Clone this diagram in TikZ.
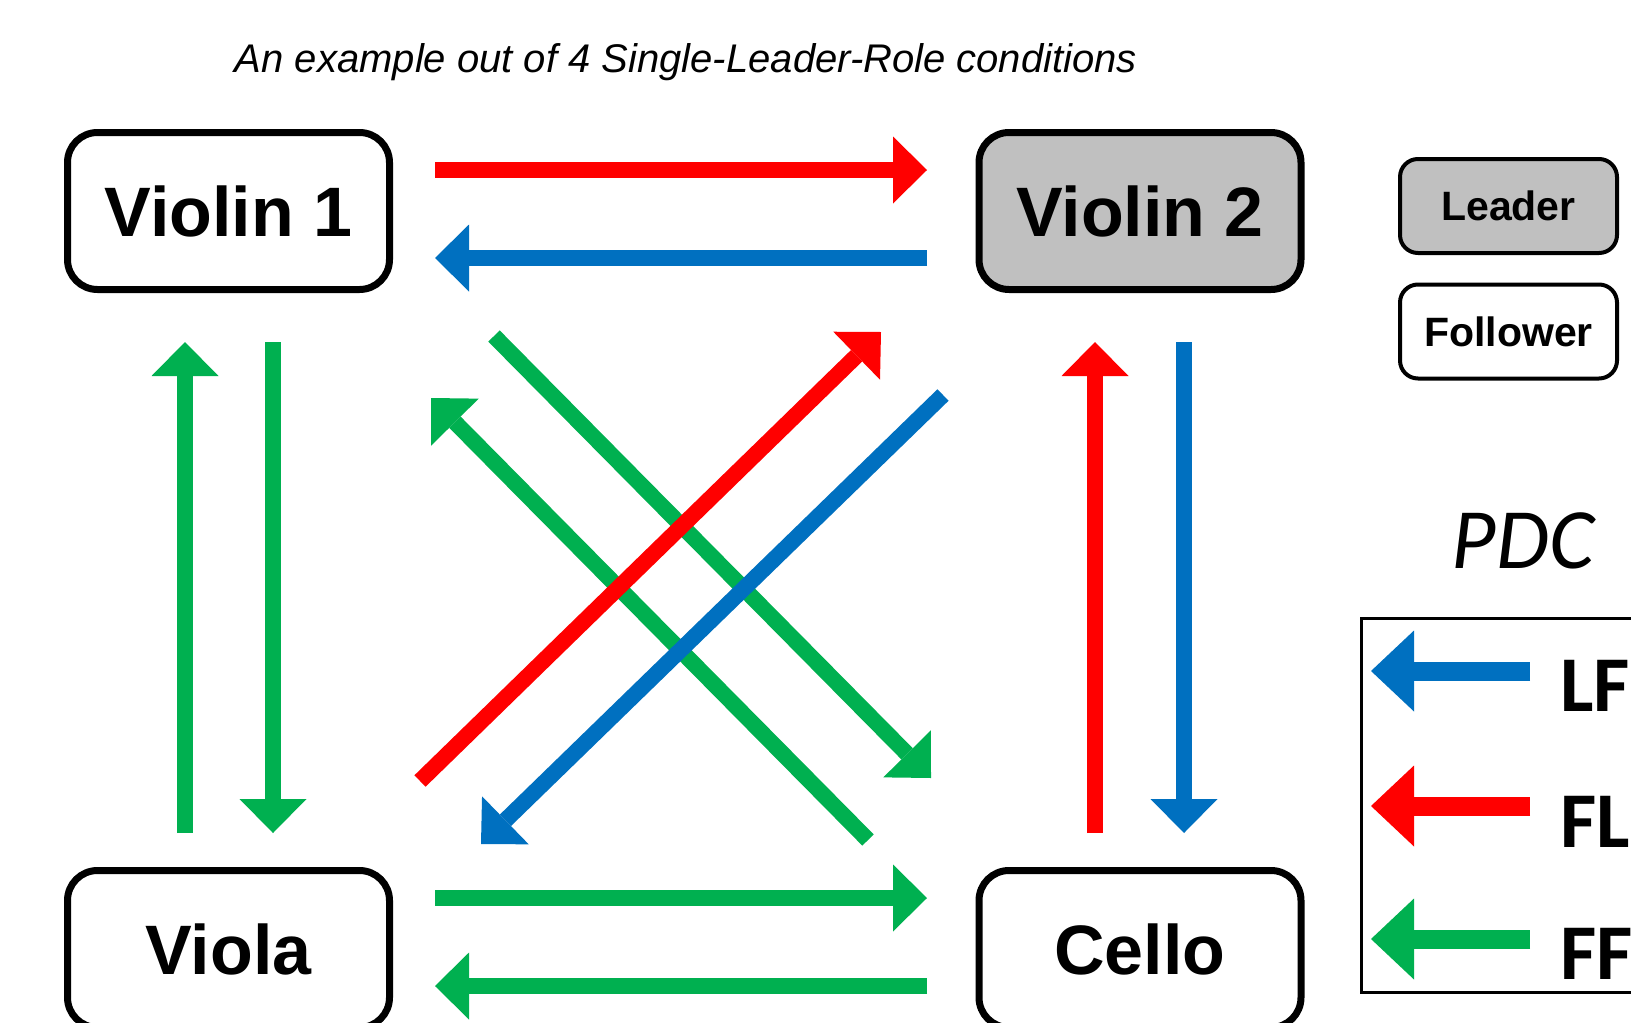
\documentclass[tikz,border=0pt]{standalone}
\usepackage{fontspec}
\setmainfont{Liberation Sans}
\newfontfamily\calfont{Carlito}
\usetikzlibrary{arrows.meta}
\definecolor{cred}{HTML}{FF0000}
\definecolor{cblue}{HTML}{0070C0}
\definecolor{cgreen}{HTML}{00B050}
\definecolor{cgray}{HTML}{C0C0C0}
\begin{document}
\begin{tikzpicture}[x=1pt,y=-1pt,
  inst/.style={draw, line width=7pt, rounded corners=30pt, minimum width=322pt,
    minimum height=157pt, inner sep=0pt, font=\fontsize{70}{84}\selectfont\bfseries},
  role/.style={draw, line width=4pt, rounded corners=18pt, minimum width=217pt,
    minimum height=94pt, inner sep=0pt, font=\fontsize{41}{49}\selectfont\bfseries},
  flow/.style={line width=16pt, -{Triangle[length=34pt,width=67pt,line width=0pt]}},
  keyflow/.style={line width=19pt, -{Triangle[length=43pt,width=81pt,line width=0pt]}},
  keytext/.style={anchor=base west, inner sep=0pt, font=\calfont\fontsize{79}{90}\selectfont\bfseries}]
\useasboundingbox (0,0) rectangle (1631,1023);
\clip (0,0) rectangle (1631,1023);
\fill[white] (0,0) rectangle (1631,1023);

% title
\node (title) [anchor=base, inner sep=0pt, font=\fontsize{40}{48}\selectfont\itshape]
  at (686,72) {An example out of 4 Single-Leader-Role conditions};

% instruments
\node (v1) [inst] at (228.5,211) {Violin 1};
\node (v2) [inst, fill=cgray] at (1140,211) {Violin 2};
\node (va) [inst] at (228.5,949) {Viola};
\node (vc) [inst] at (1140,949) {Cello};

% roles legend
\node (leader) [role, fill=cgray] at (1508.5,206) {Leader};
\node (follower) [role] at (1508.5,331.5) {Follower};

% coordinates for arrows
\coordinate (h1a) at (435,170);  \coordinate (h1b) at (927,170);
\coordinate (h2a) at (927,258);  \coordinate (h2b) at (435,258);
\coordinate (h3a) at (435,898);  \coordinate (h3b) at (927,898);
\coordinate (h4a) at (927,986);  \coordinate (h4b) at (435,986);
\coordinate (l1a) at (185,833);  \coordinate (l1b) at (185,342);
\coordinate (l2a) at (273,342);  \coordinate (l2b) at (273,833);
\coordinate (r1a) at (1095,833); \coordinate (r1b) at (1095,342);
\coordinate (r2a) at (1184,342); \coordinate (r2b) at (1184,833);
\coordinate (d1a) at (420,781);  \coordinate (d1b) at (881,332);
\coordinate (d2a) at (943,395);  \coordinate (d2b) at (481,844);
\coordinate (d3a) at (494,336);  \coordinate (d3b) at (931,778);
\coordinate (d4a) at (868,840);  \coordinate (d4b) at (431,398);

\draw[flow, cred]   (h1a) -- (h1b);
\draw[flow, cblue]  (h2a) -- (h2b);
\draw[flow, cgreen] (h3a) -- (h3b);
\draw[flow, cgreen] (h4a) -- (h4b);
\draw[flow, cgreen] (l1a) -- (l1b);
\draw[flow, cgreen] (l2a) -- (l2b);
\draw[flow, cred]   (r1a) -- (r1b);
\draw[flow, cblue]  (r2a) -- (r2b);
\draw[flow, cgreen] (d4a) -- (d4b);
\draw[flow, cgreen] (d3a) -- (d3b);
\draw[flow, cred]   (d1a) -- (d1b);
\draw[flow, cblue]  (d2a) -- (d2b);

% PDC legend
\node (pdc) [anchor=base, inner sep=0pt, font=\calfont\fontsize{86}{96}\selectfont\itshape]
  at (1523,568) {PDC};
\draw[line width=3pt] (1700,618.5) -- (1361.5,618.5) -- (1361.5,992.5) -- (1700,992.5);
\coordinate (k1a) at (1530,671); \coordinate (k1b) at (1371,671);
\coordinate (k2a) at (1530,806); \coordinate (k2b) at (1371,806);
\coordinate (k3a) at (1530,939); \coordinate (k3b) at (1371,939);
\draw[keyflow, cblue]  (k1a) -- (k1b);
\draw[keyflow, cred]   (k2a) -- (k2b);
\draw[keyflow, cgreen] (k3a) -- (k3b);
\node (lf) [keytext] at (1560,711) {LF};
\node (fl) [keytext] at (1560,847) {FL};
\node (ff) [keytext] at (1560,979) {FF};
\end{tikzpicture}
\end{document}
